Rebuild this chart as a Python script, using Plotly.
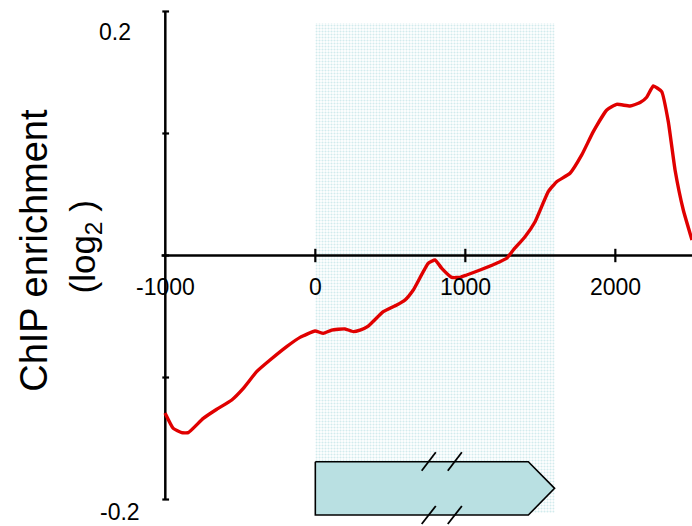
import plotly.graph_objects as go

# ---- data ----
pos = [-1002, -947, -891, -847, -747, -657, -557, -480, -391, -302, -191, -102, -2,
       53, 109, 198, 253, 298, 353, 453, 543, 598, 653, 753, 798, 843, 909, 965,
       1009, 1098, 1231, 1276, 1320, 1398, 1465, 1553, 1609, 1698, 1776, 1853,
       1943, 2009, 2098, 2165, 2209, 2253, 2309, 2353, 2398, 2453, 2511]
enrich = [-0.129, -0.1417, -0.1452, -0.1452, -0.1335, -0.126, -0.1184, -0.1089,
          -0.0952, -0.0857, -0.0747, -0.0671, -0.0619, -0.0638, -0.0611, -0.0602,
          -0.0624, -0.0611, -0.0578, -0.046, -0.0406, -0.0365, -0.0283, -0.0064,
          -0.0037, -0.0105, -0.0179, -0.0179, -0.016, -0.0119, -0.0051, -0.0023,
          0.0045, 0.0154, 0.0277, 0.0523, 0.0605, 0.0674, 0.0824, 0.1015, 0.1193,
          0.1239, 0.1225, 0.1253, 0.1297, 0.1389, 0.1343, 0.1097, 0.0701, 0.0373,
          0.0127]

x_ticks = [-1000, 0, 1000, 2000]
x_tick_labels = ["-1000", "0", "1000", "2000"]
y_ticks = [-0.2, -0.1, 0.0, 0.1, 0.2]
y_label_vals = [0.2, -0.2]
y_label_text = ["0.2", "-0.2"]

region_start, region_end = 0, 1595
region_bottom, region_top = -0.211, 0.1906
gene_start, gene_body_end, gene_tip = 0, 1420, 1595
gene_bottom, gene_top = -0.2127, -0.169
slash_x = [709, 883]
slash_dx = 94

X_MIN, X_MAX = -2102, 2511
Y_MIN, Y_MAX = -0.2217, 0.2094

fig = go.Figure()

# shaded region (stippled)
fig.add_trace(go.Scatter(
    x=[region_start, region_end, region_end, region_start, region_start],
    y=[region_bottom, region_bottom, region_top, region_top, region_bottom],
    mode="lines", line=dict(width=0), fill="toself", fillcolor="rgba(0,0,0,0)",
    fillpattern=dict(shape=".", fgcolor="#a6d8dc", bgcolor="white", size=3, solidity=0.4),
    hoverinfo="skip", showlegend=False))

# gene arrow
gene_mid = (gene_bottom + gene_top) / 2
fig.add_trace(go.Scatter(
    x=[gene_start, gene_body_end, gene_tip, gene_body_end, gene_start, gene_start],
    y=[gene_top, gene_top, gene_mid, gene_bottom, gene_bottom, gene_top],
    mode="lines", line=dict(color="black", width=1.6), fill="toself",
    fillcolor="#b9e0e2", hoverinfo="skip", showlegend=False))

# slash marks
for sx in slash_x:
    for (y0, y1) in [(-0.1764, -0.1613), (-0.2201, -0.2053)]:
        fig.add_trace(go.Scatter(x=[sx, sx + slash_dx], y=[y0, y1], mode="lines",
                                 line=dict(color="black", width=1.8),
                                 hoverinfo="skip", showlegend=False))

# axis lines
fig.add_trace(go.Scatter(x=[-1025, X_MAX], y=[0, 0], mode="lines",
                         line=dict(color="black", width=2.5), hoverinfo="skip", showlegend=False))
fig.add_trace(go.Scatter(x=[-1000, -1000], y=[-0.2, 0.2], mode="lines",
                         line=dict(color="black", width=2.5), hoverinfo="skip", showlegend=False))

# ticks
for t in y_ticks:
    fig.add_trace(go.Scatter(x=[-1000 - 20, -1000 + 25], y=[t, t], mode="lines",
                             line=dict(color="black", width=2.2), hoverinfo="skip", showlegend=False))
for t in x_ticks[1:]:
    fig.add_trace(go.Scatter(x=[t, t], y=[-0.0055, 0.0055], mode="lines",
                             line=dict(color="black", width=2.2), hoverinfo="skip", showlegend=False))

# data curve
fig.add_trace(go.Scatter(x=pos, y=enrich, mode="lines",
                         line=dict(color="#e00000", width=3.4, shape="spline", smoothing=0.4),
                         showlegend=False))

annotations = []
font_tick = dict(family="Liberation Sans, Arial, sans-serif", size=23, color="black")
for t, lab in zip(x_ticks, x_tick_labels):
    annotations.append(dict(x=t, y=-0.0262, xref="x", yref="y", text=lab, showarrow=False,
                            xanchor="center", yanchor="middle", font=font_tick))
y_label_x = [-1213, -1157]
y_label_y = [0.1828, -0.2105]
for xl, yl, lab in zip(y_label_x, y_label_y, y_label_text):
    annotations.append(dict(x=xl, y=yl, xref="x", yref="y", text=lab, showarrow=False,
                            xanchor="right", yanchor="middle", font=font_tick))

annotations.append(dict(x=34 / 692, y=1 - 250.8 / 526, xref="paper", yref="paper",
                        text="ChIP enrichment", textangle=-90, showarrow=False,
                        xanchor="center", yanchor="middle",
                        font=dict(family="Liberation Sans, Arial, sans-serif", size=38, color="black")))
annotations.append(dict(x=84 / 692, y=1 - 247.5 / 526, xref="paper", yref="paper",
                        text="(log<sub>2</sub> )", textangle=-90, showarrow=False,
                        xanchor="center", yanchor="middle",
                        font=dict(family="Liberation Sans, Arial, sans-serif", size=35, color="black")))

fig.update_layout(
    width=692, height=526,
    margin=dict(l=0, r=0, t=0, b=0),
    paper_bgcolor="white", plot_bgcolor="white",
    xaxis=dict(range=[X_MIN, X_MAX], visible=False, fixedrange=True),
    yaxis=dict(range=[Y_MIN, Y_MAX], visible=False, fixedrange=True),
    annotations=annotations,
    showlegend=False,
)

fig.write_html("out.html")
